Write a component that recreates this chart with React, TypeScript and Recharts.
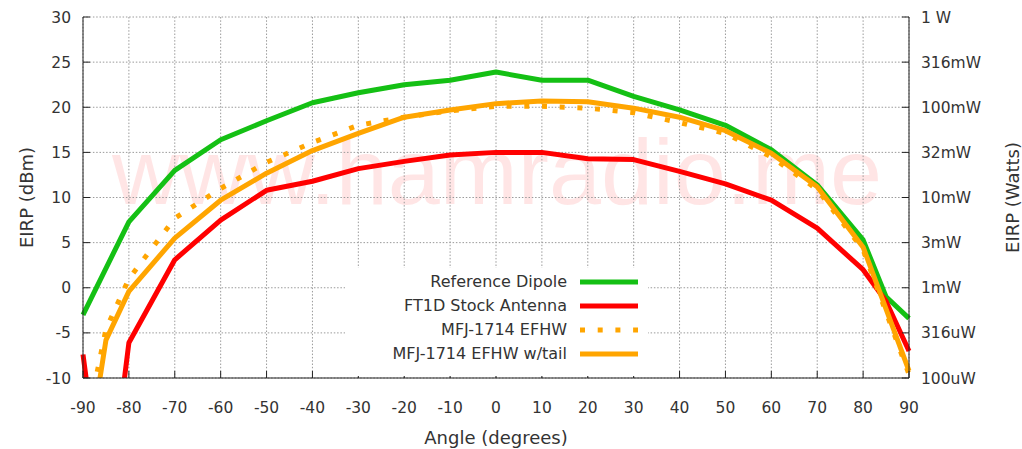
import React from 'react';
import {
  LineChart,
  Line,
  XAxis,
  YAxis,
  CartesianGrid,
  Legend,
} from 'recharts';

// Ángulos medidos (grados)
const angles = [-90, -85, -80, -70, -60, -50, -40, -30, -20, -10, 0, 10, 20, 30, 40, 50, 60, 70, 80, 85, 90];

// EIRP en dBm
const referenceDipole = [-3.0, null, 7.3, 13.0, 16.4, 18.5, 20.5, 21.6, 22.5, 23.0, 23.9, 23.0, 23.0, 21.2, 19.7, 18.0, 15.3, 11.4, 5.3, -1.0, -3.4];
const ft1dStock = [-7.4, -26.5, -6.1, 3.1, 7.5, 10.8, 11.8, 13.2, 14.0, 14.7, 15.0, 15.0, 14.3, 14.2, 12.9, 11.5, 9.7, 6.6, 2.0, -1.5, -7.0];
const mfjEfhw = [-17, -4.6, 1.0, 7.7, 11.0, 13.9, 16.1, 18.0, 18.9, 19.6, 20.1, 20.1, 19.9, 19.4, 18.3, 17.1, 14.5, 10.9, 4.2, null, -9.6];
const mfjEfhwTail = [-22, -5.8, -0.4, 5.5, 9.7, 12.7, 15.2, 17.1, 18.9, 19.7, 20.4, 20.7, 20.6, 19.9, 18.9, 17.4, 14.9, 11.2, 4.5, null, -9.2];

const xTicks = [-90, -80, -70, -60, -50, -40, -30, -20, -10, 0, 10, 20, 30, 40, 50, 60, 70, 80, 90];
const yTicks = [-10, -5, 0, 5, 10, 15, 20, 25, 30];
const wattLabels = ['100uW', '316uW', '1mW', '3mW', '10mW', '32mW', '100mW', '316mW', '1 W'];

const chartData = angles.map((angle, i) => ({
  angle,
  dipole: referenceDipole[i],
  ft1d: ft1dStock[i],
  efhw: mfjEfhw[i],
  efhwTail: mfjEfhwTail[i],
}));

const series = [
  { key: 'dipole', name: 'Reference Dipole', color: '#14c014', dash: undefined },
  { key: 'ft1d', name: 'FT1D Stock Antenna', color: '#ff0000', dash: undefined },
  { key: 'efhw', name: 'MFJ-1714 EFHW', color: '#ffa500', dash: '5 12.7' },
  { key: 'efhwTail', name: 'MFJ-1714 EFHW w/tail', color: '#ffa500', dash: undefined },
];

const W = 1022;
const H = 449;
const PLOT_LEFT = 83;
const PLOT_RIGHT = 909;
const PLOT_TOP = 17;
const PLOT_BOTTOM = 378;
const FONT = '"DejaVu Sans", Verdana, sans-serif';
const TEXT = '#333';

const BottomTick = ({ x, payload }: any) => (
  <g>
    <line x1={x} x2={x} y1={PLOT_BOTTOM} y2={PLOT_BOTTOM - 7} stroke="#222" />
    <text x={x} y={PLOT_BOTTOM + 35} textAnchor="middle" fontSize={15.5} fill={TEXT} fontFamily={FONT}>
      {payload.value}
    </text>
  </g>
);

const TopTick = ({ x }: any) => (
  <line x1={x} x2={x} y1={PLOT_TOP} y2={PLOT_TOP + 7} stroke="#222" />
);

const LeftTick = ({ y, payload }: any) => (
  <g>
    <line x1={PLOT_LEFT} x2={PLOT_LEFT + 7} y1={y} y2={y} stroke="#222" />
    <text x={PLOT_LEFT - 12} y={y} dy="0.36em" textAnchor="end" fontSize={15.5} fill={TEXT} fontFamily={FONT}>
      {payload.value}
    </text>
  </g>
);

const RightTick = ({ y, payload }: any) => (
  <g>
    <line x1={PLOT_RIGHT} x2={PLOT_RIGHT - 7} y1={y} y2={y} stroke="#222" />
    <text x={PLOT_RIGHT + 12} y={y} dy="0.36em" textAnchor="start" fontSize={15.5} fill={TEXT} fontFamily={FONT}>
      {wattLabels[yTicks.indexOf(payload.value)]}
    </text>
  </g>
);

const renderLegend = () => (
  <div style={{ width: 303, height: 108, background: '#fff', position: 'relative', fontFamily: FONT }}>
    {series.map((s, i) => (
      <div key={s.key}>
        <span
          style={{
            position: 'absolute',
            right: 81,
            top: 14 + i * 24 - 10,
            fontSize: 16,
            lineHeight: '20px',
            color: TEXT,
            whiteSpace: 'nowrap',
          }}
        >
          {s.name}
        </span>
        <svg style={{ position: 'absolute', left: 235, top: 14 + i * 24 - 4 }} width={60} height={8}>
          <line x1={0} x2={58} y1={4} y2={4} stroke={s.color} strokeWidth={5} strokeDasharray={s.dash} />
        </svg>
      </div>
    ))}
  </div>
);

const App: React.FC = () => {
  return (
    <div style={{ position: 'absolute', left: 0, top: 0, width: W, height: H, background: '#fff' }}>
      {/* Marca de agua */}
      <svg width={W} height={H} style={{ position: 'absolute', left: 0, top: 0 }}>
        <text
          x={112}
          y={204}
          textLength={770}
          lengthAdjust="spacingAndGlyphs"
          fontSize={92}
          fontFamily='"Liberation Sans", Arial, sans-serif'
          fill="#ff0000"
          fillOpacity={0.1}
        >
          www.hamradio.me
        </text>
      </svg>

      <div style={{ position: 'absolute', left: 0, top: 0 }}>
        <LineChart width={W} height={H} data={chartData} margin={{ top: PLOT_TOP, right: 0, bottom: 0, left: 0 }}>
          <CartesianGrid stroke="#9a9a9a" strokeDasharray="1.5 1.8" />
          <XAxis
            dataKey="angle"
            type="number"
            domain={[-90, 90]}
            ticks={xTicks}
            height={71}
            tickLine={false}
            tickSize={0}
            tick={<BottomTick />}
            axisLine={{ stroke: '#222' }}
            interval={0}
            label={{
              content: () => (
                <text x={496} y={444} textAnchor="middle" fontSize={18} fill={TEXT} fontFamily={FONT}>
                  Angle (degrees)
                </text>
              ),
            }}
          />
          <XAxis
            xAxisId="top"
            dataKey="angle"
            type="number"
            orientation="top"
            domain={[-90, 90]}
            ticks={xTicks}
            height={0}
            tickLine={false}
            tickSize={0}
            tick={<TopTick />}
            axisLine={{ stroke: '#222' }}
            interval={0}
          />
          <YAxis
            type="number"
            domain={[-10, 30]}
            ticks={yTicks}
            width={PLOT_LEFT}
            allowDataOverflow
            tickLine={false}
            tickSize={0}
            tick={<LeftTick />}
            axisLine={{ stroke: '#222' }}
            interval={0}
            label={{
              content: () => (
                <text
                  transform={`translate(27, ${(PLOT_TOP + PLOT_BOTTOM) / 2}) rotate(-90)`}
                  textAnchor="middle"
                  dy="0.36em"
                  fontSize={18}
                  fill={TEXT}
                  fontFamily={FONT}
                >
                  EIRP (dBm)
                </text>
              ),
            }}
          />
          <YAxis
            yAxisId="right"
            orientation="right"
            type="number"
            domain={[-10, 30]}
            ticks={yTicks}
            width={W - PLOT_RIGHT}
            allowDataOverflow
            tickLine={false}
            tickSize={0}
            tick={<RightTick />}
            axisLine={{ stroke: '#222' }}
            interval={0}
            label={{
              content: () => (
                <text
                  transform={`translate(1013, ${(PLOT_TOP + PLOT_BOTTOM) / 2}) rotate(-90)`}
                  textAnchor="middle"
                  dy="0.36em"
                  fontSize={18}
                  fill={TEXT}
                  fontFamily={FONT}
                >
                  EIRP (Watts)
                </text>
              ),
            }}
          />
          <Legend
            layout="vertical"
            verticalAlign="middle"
            align="center"
            content={renderLegend}
            wrapperStyle={{ position: 'absolute', left: 345, top: 268, width: 303, height: 108, margin: 0 }}
          />
          {series.map(s => (
            <Line
              key={s.key}
              type="linear"
              dataKey={s.key}
              name={s.name}
              stroke={s.color}
              strokeWidth={5}
              strokeDasharray={s.dash}
              strokeLinejoin="round"
              dot={false}
              activeDot={false}
              connectNulls
              isAnimationActive={false}
            />
          ))}
        </LineChart>
      </div>
    </div>
  );
};

export default App;
